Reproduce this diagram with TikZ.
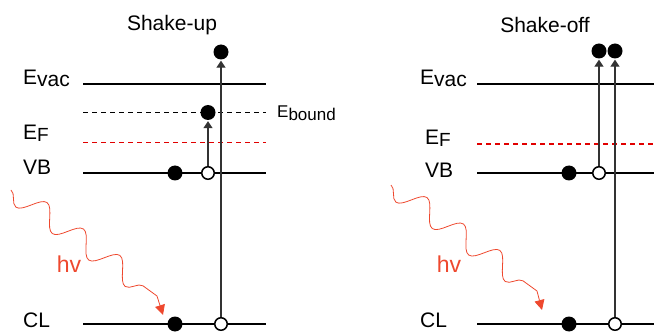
\documentclass[tikz,border=0pt]{standalone}
\usepackage{fontspec}
\setmainfont{Liberation Sans}
\usetikzlibrary{arrows.meta,positioning,decorations.pathmorphing}

\definecolor{photonred}{RGB}{238,72,46}
\definecolor{fermired}{RGB}{225,0,0}

\begin{document}
\begin{tikzpicture}[
  x=1pt, y=-1pt,
  every node/.style={font=\fontsize{21}{25}\selectfont, inner sep=0pt},
  lvlname/.style={anchor=base west},
  title/.style={font=\fontsize{21}{25}\selectfont},
  level/.style={line width=1.8pt},
  fermi/.style={fermired, line width=1.6pt, dash pattern=on 5pt off 4pt},
  bound/.style={black, line width=1.6pt, dash pattern=on 5pt off 4pt},
  elec/.style={circle, fill=black, minimum size=15pt},
  hole/.style={circle, draw=black, line width=1.5pt, fill=white, minimum size=12.5pt},
  trans/.style={-{Triangle[length=7pt, width=9pt]}, line width=1.1pt, black!80, shorten >=1pt},
  photon/.style={photonred, line width=0.8pt, -{Triangle[length=10pt, width=10pt]},
    decoration={snake, segment length=45pt, amplitude=-11pt}}
]
  \useasboundingbox (0,0) rectangle (654,334);

  % Shake-up
  \node[title] (uptitle) at (172,25) {Shake-up};
  \node[lvlname] (upvac) at (23,85) {E\raisebox{-2pt}{vac}};
  \node[lvlname] (upfermi) at (23,140) {E\raisebox{-2pt}{\fontsize{19}{20}\selectfont F}};
  \node[lvlname] (upvb) at (23,175) {VB};
  \node[lvlname] (upcl) at (23,327) {CL};
  \node[lvlname, font=\fontsize{17}{20}\selectfont] (upbound) at (277,118) {E\raisebox{-3pt}{bound}};

  \draw[level] (83,84) -- (266,84);
  \draw[bound] (83,112.5) -- (266,112.5);
  \draw[fermi] (83,142.5) -- (266,142.5);
  \draw[level] (83,173) -- (266,173);
  \draw[level] (83,324) -- (266,324);

  \node[elec] (upvbe) at (175,173) {};
  \node[hole] (upvbh) at (208,173) {};
  \node[elec] (upbe) at (208,112.5) {};
  \node[elec] (upcle) at (175,324) {};
  \node[hole] (upclh) at (221,324) {};
  \node[elec] (upout) at (221,52) {};

  \draw[trans] (upvbh) -- (upbe);
  \draw[trans] (upclh) -- (upout);

  \coordinate (upsrc) at (11,190);
  \coordinate (upbend) at (157,296);
  \coordinate (uphit) at (163,315);
  \draw[photon] (upsrc) decorate {-- (upbend)} -- (uphit);
  \node[photonred, font=\fontsize{23}{25}\selectfont] (uphv) at (69,264) {hv};

  % Shake-off
  \node[title] (offtitle) at (545,25) {Shake-off};
  \node[lvlname] (offvac) at (420,85) {E\raisebox{-2pt}{vac}};
  \node[lvlname] (offfermi) at (425,145) {E\raisebox{-2pt}{\fontsize{19}{20}\selectfont F}};
  \node[lvlname] (offvb) at (425,178) {VB};
  \node[lvlname] (offcl) at (420,327) {CL};

  \draw[level] (477,84) -- (654,84);
  \draw[fermi] (477,144) -- (654,144);
  \draw[level] (477,173) -- (654,173);
  \draw[level] (477,324) -- (654,324);

  \node[elec] (offvbe) at (569,173) {};
  \node[hole] (offvbh) at (599,173) {};
  \node[elec] (offcle) at (569,324) {};
  \node[hole] (offclh) at (615,324) {};
  \node[elec] (offout1) at (599,51) {};
  \node[elec] (offout2) at (615,51) {};

  \draw[trans] (offvbh) -- (offout1);
  \draw[trans] (offclh) -- (offout2);

  \coordinate (offsrc) at (391,185);
  \coordinate (offbend) at (537,291);
  \coordinate (offhit) at (542,310);
  \draw[photon] (offsrc) decorate {-- (offbend)} -- (offhit);
  \node[photonred, font=\fontsize{23}{25}\selectfont] (offhv) at (449,264) {hv};
\end{tikzpicture}
\end{document}
